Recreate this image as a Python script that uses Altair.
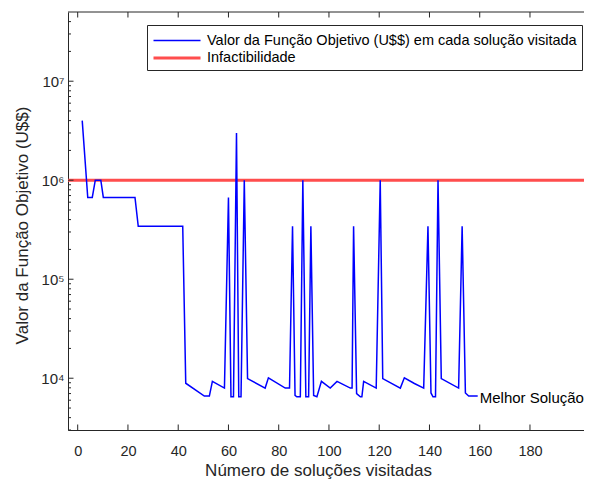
import altair as alt
import pandas as pd

# ---- data ----
x_vals = [1.8, 4.0, 5.8, 7.0, 9.2, 10.2, 22.8, 24.1, 41.8, 43.0,
          50.4, 52.4, 53.6, 58.4, 60.0, 61.0, 62.0, 63.2, 64.1, 65.0,
          66.3, 67.6, 74.6, 75.9, 82.6, 84.3, 85.5, 86.5, 87.2, 88.6,
          89.6, 90.8, 91.9, 92.8, 93.9, 95.2, 97.0, 100.5, 103.2, 108.5,
          109.2, 109.8, 111.0, 112.5, 113.1, 113.8, 118.8, 120.4, 121.4, 128.4,
          130.0, 134.0, 137.7, 139.4, 140.6, 141.4, 142.4, 143.4, 144.7, 151.6,
          153.0, 154.3, 155.6, 159.2]
y_vals = [4.0e6, 6.7e5, 6.7e5, 1.0e6, 1.0e6, 6.7e5, 6.7e5, 3.43e5, 3.43e5, 8900,
          6600, 6600, 9300, 7950, 6.7e5, 6500, 6500, 3.0e6, 6500, 6500,
          1.0e6, 9900, 7950, 10100, 7950, 7950, 3.43e5, 6700, 6500, 6500,
          1.0e6, 6500, 6500, 3.43e5, 6700, 6500, 9300, 7950, 9300, 7950,
          7950, 3.43e5, 7000, 6500, 6500, 9300, 7950, 1.0e6, 9900, 7950,
          10100, 8850, 7950, 3.43e5, 7100, 6500, 6500, 1.0e6, 9900, 7950,
          3.43e5, 7100, 6600, 6600]

serie_obj = "Valor da Função Objetivo (U$$) em cada solução visitada"
serie_inf = "Infactibilidade"
inf_value = [1.0e6]
best_label = "Melhor Solução"

x_tick_values = [0, 20, 40, 60, 80, 100, 120, 140, 160, 180]
y_major_values = [1e4, 1e5, 1e6, 1e7]
y_minor_values = [m * 10 ** e for e in range(3, 8) for m in range(2, 10)
                  if 3000 <= m * 10 ** e < 5e7]

x_title = "Número de soluções visitadas"
y_title = "Valor da Função Objetivo (U$$)"

# ---- style ----
W, H = 516, 418
TXT = "#262626"
FONT = "Liberation Sans"
BLUE = "#0000ff"
RED = "#ff4d4d"

xs = alt.Scale(domain=[-3.86, 201.5], nice=False, zero=False)
ys = alt.Scale(type="log", domain=[3000, 5e7], nice=False)

df = pd.DataFrame({"x": x_vals, "y": y_vals, "serie": serie_obj})
df_inf = pd.DataFrame({"y": inf_value, "serie": [serie_inf]})
df_best = pd.DataFrame({"x": [x_vals[-1]], "y": [y_vals[-1]], "t": [best_label]})
df_xt = pd.DataFrame({"v": x_tick_values})
df_ymaj = pd.DataFrame({"v": y_major_values})
df_ymin = pd.DataFrame({"v": y_minor_values})

legend = alt.Legend(
    title=None, orient="none", legendX=79, legendY=13,
    symbolType="M-1,0H3.95", symbolSize=361,
    labelFontSize=14.5, labelFont=FONT, labelColor="black",
    labelOffset=33, padding=5, rowPadding=0,
    strokeColor=TXT, fillColor="white", labelLimit=0,
)
color = alt.Color("serie:N",
                  scale=alt.Scale(domain=[serie_obj, serie_inf], range=[BLUE, RED]),
                  legend=legend)
swidth = alt.StrokeWidth("serie:N",
                         scale=alt.Scale(type="point", padding=0,
                                         domain=[serie_obj, serie_inf], range=[1.5, 3]),
                         legend=legend)

y_label_expr = ("datum.value == 10000 ? '10\u2074' : datum.value == 100000 ? '10\u2075' : "
                "datum.value == 1000000 ? '10\u2076' : '10\u2077'")

x_axis = alt.Axis(values=x_tick_values, ticks=False, domain=True, domainColor=TXT,
                  domainWidth=1, grid=False,
                  labelFontSize=14.5, labelPadding=14, labelColor=TXT, labelFont=FONT,
                  labelFlush=False,
                  title=x_title, titleFontSize=17, titleFontWeight="normal",
                  titleColor=TXT, titleFont=FONT, titleX=250, titleY=45,
                  titleBaseline="alphabetic", titleAlign="center")
y_axis = alt.Axis(values=y_major_values, labelExpr=y_label_expr, ticks=False,
                  domain=True, domainColor=TXT, domainWidth=1, grid=False,
                  labelFontSize=15, labelPadding=4,
                  labelColor=TXT, labelFont=FONT, labelFlush=False,
                  title=y_title, titleFontSize=17, titleFontWeight="normal",
                  titleColor=TXT, titleFont=FONT, titleX=-46, titleY=213,
                  titleAngle=270, titleBaseline="middle", titleAlign="center")

X = lambda f: alt.X(f, scale=xs, axis=x_axis)
Y = lambda f: alt.Y(f, scale=ys, axis=y_axis)

red = alt.Chart(df_inf).mark_rule().encode(
    y=Y("y:Q"), color=color, strokeWidth=swidth)

blue = alt.Chart(df).mark_line(clip=True).encode(
    x=X("x:Q"), y=Y("y:Q"), color=color, strokeWidth=swidth, order="x:Q")

best = alt.Chart(df_best).mark_text(align="left", baseline="middle", dx=2, dy=2,
                                    fontSize=15, font=FONT, color="black").encode(
    x=X("x:Q"), y=Y("y:Q"), text="t:N")

tick_top = alt.Chart(df_xt).mark_rule(color=TXT, strokeWidth=1).encode(
    x=X("v:Q"), y=alt.value(0), y2=alt.value(5.5))
tick_bot = alt.Chart(df_xt).mark_rule(color=TXT, strokeWidth=1).encode(
    x=X("v:Q"), y=alt.value(H), y2=alt.value(H - 5.5))
tick_ymaj = alt.Chart(df_ymaj).mark_rule(color=TXT, strokeWidth=1).encode(
    y=Y("v:Q"), x=alt.value(0), x2=alt.value(5.5))
tick_ymin = alt.Chart(df_ymin).mark_rule(color=TXT, strokeWidth=1).encode(
    y=Y("v:Q"), x=alt.value(0), x2=alt.value(3))
top_border = alt.Chart(df_inf).mark_rule(color=TXT, strokeWidth=1).encode(
    y=alt.value(0))

chart = alt.layer(red, blue, best, tick_top, tick_bot, tick_ymaj, tick_ymin,
                  top_border).properties(
    width=W, height=H,
    autosize=alt.AutoSizeParams(type="none"),
    padding={"left": 60, "top": 4, "right": 0, "bottom": 50},
    background="white",
).configure_view(stroke=None)

chart.save("out.html", embed_options={"renderer": "svg", "actions": False})
